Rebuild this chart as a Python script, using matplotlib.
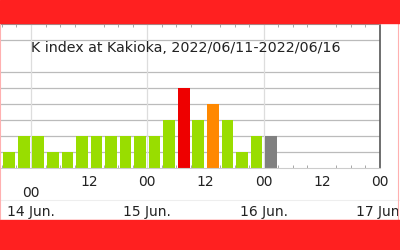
import numpy as np
import pandas as pd
import matplotlib
matplotlib.use('Agg')
import matplotlib.pyplot as plt
from matplotlib.patches import Rectangle

# K index, 3-hour intervals starting 2022/06/13 18:00 (JST)
k_values = [1, 2,
            2, 1, 1, 2, 2, 2, 2, 2,
            2, 3, 5, 3, 4, 3, 1, 2,
            2]
provisional = [False] * 18 + [True]
start_times = pd.date_range('2022-06-13 18:00', periods=len(k_values), freq='3h')

hour_ticks = ['00', '12', '00', '12', '00', '12', '00']
day_labels = ['14 Jun.', '15 Jun.', '16 Jun.', '17 Jun.']
title = 'K index at Kakioka, 2022/06/11-2022/06/16'
grid_levels = [1, 2, 3, 4, 5, 6, 8]

def k_color(k, prov):
    if prov:
        return '#808080'
    if k >= 5:
        return '#ee0000'
    if k == 4:
        return '#ff8800'
    return '#99dd00'

origin = pd.Timestamp('2022-06-14 00:00')
hours = np.array([(t - origin).total_seconds() / 3600 for t in start_times])
colors = [k_color(k, p) for k, p in zip(k_values, provisional)]

fig = plt.figure(figsize=(4, 2.5), dpi=100)
ax = fig.add_axes([0.0, 82 / 250, 380 / 400, 144 / 250])

for lv in grid_levels:
    ax.axhline(lv, color='#bbbbbb', lw=0.9, zorder=0)
for d in range(3):
    ax.axvline(d * 24, color='#dddddd', lw=0.9, zorder=0)

ax.bar(hours + 1.5, k_values, width=2.4, color=colors, zorder=2)

ax.set_xlim(-6.4, 72)
ax.set_ylim(0, 9)
ax.set_yticks([])

ax.set_xticks(np.arange(0, 73, 12))
ax.set_xticklabels(hour_ticks, fontsize=10, color='#222222')
ax.tick_params(axis='x', which='major', length=0, pad=5)
ax.xaxis.get_major_ticks()[0].set_pad(13)
ax.set_xticks(np.arange(-6, 73, 3), minor=True)
ax.tick_params(axis='x', which='minor', length=2, direction='in', color='#999999',
               top=True, bottom=True)

for i, lab in enumerate(day_labels):
    ax.text(i * 24, -0.306, lab, transform=ax.get_xaxis_transform(),
            ha='center', va='center', fontsize=10, color='#222222')

ax.text(0.489, (168 - 48) / 144, title, transform=ax.transAxes, ha='center', va='center',
        fontsize=10.3, color='#222222')

ax.spines['left'].set_visible(False)
ax.spines['top'].set_color('#999999')
ax.spines['bottom'].set_color('#cccccc')
ax.spines['right'].set_color('#555555')
ax.spines['right'].set_linewidth(1.2)

# faint line under hour labels
fig.add_artist(plt.Line2D([0, 1], [50 / 250, 50 / 250], color='#eeeeee', lw=0.8))

# red bands
fig.patches.append(Rectangle((0, 227 / 250), 1, 23 / 250, transform=fig.transFigure,
                             color='#ff2020', zorder=5))
fig.patches.append(Rectangle((0, 0), 1, 30 / 250, transform=fig.transFigure,
                             color='#ff2020', zorder=5))
fig.add_artist(plt.Line2D([0.996, 0.996], [0, 1], color='#ffb0b0', lw=0.8))
fig.add_artist(plt.Line2D([0.001, 0.001], [0, 1], color='#ffb0b0', lw=0.8))

fig.savefig('out.png', dpi=100)
